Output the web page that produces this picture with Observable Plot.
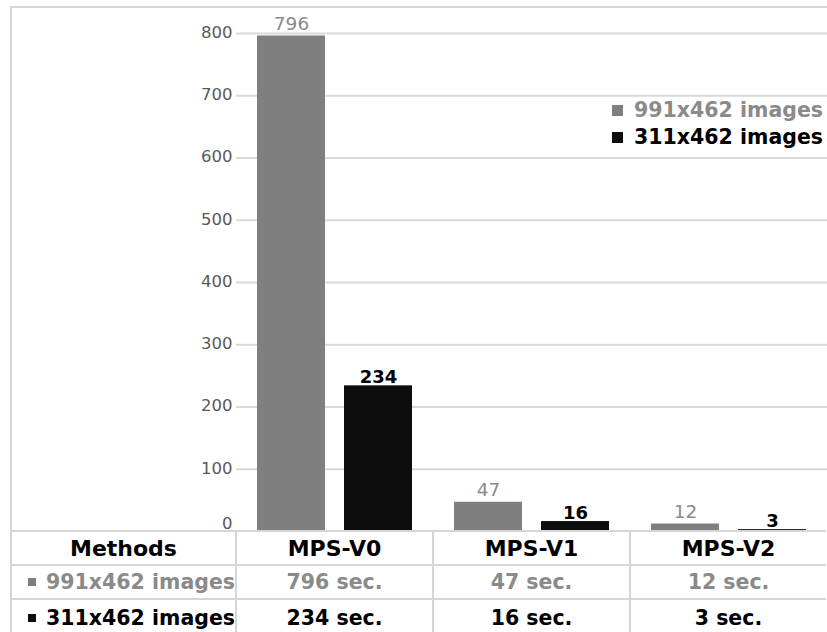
<!DOCTYPE html>
<html>
<head>
<meta charset="utf-8">
<script src="https://cdn.jsdelivr.net/npm/d3@7"></script>
<script src="https://cdn.jsdelivr.net/npm/@observablehq/plot@0.6"></script>
<style>
  html, body { margin: 0; padding: 0; background: #fff; }
  #wrap { position: relative; width: 827px; height: 632px; overflow: hidden; font-family: "DejaVu Sans", sans-serif; }
  #frame { position: absolute; left: 10px; top: 6px; width: 900px; height: 700px; border-left: 2px solid #d6d6d6; border-top: 2px solid #d6d6d6; }
  #chart { position: absolute; left: 0; top: 0; }
  .cell { position: absolute; box-sizing: border-box; border-left: 2px solid #d6d6d6; border-top: 2px solid #d6d6d6;
          display: flex; align-items: center; justify-content: center; font-weight: bold; white-space: nowrap; }
  .hdr { font-size: 22px; color: #000; }
  .row { font-size: 20.5px; }
  .sq { display: inline-block; width: 8px; height: 8px; margin-right: 10px; flex: none; }
  #legend { position: absolute; right: 4px; top: 97px; font-weight: bold; font-size: 20.5px; line-height: 27px; }
  #legend .sq { width: 11px; height: 11px; margin-right: 11px; }
</style>
</head>
<body>
<div id="wrap">
  <div id="frame"></div>
  <div id="chart"></div>
  <div id="legend"></div>
</div>
<script>
// ---- data ----
const methods = ["MPS-V0", "MPS-V1", "MPS-V2"];
const seriesNames = ["991x462 images", "311x462 images"];
const values991 = [796, 47, 12];
const values311 = [234, 16, 3];
const seriesColors = ["#7f7f7f", "#0d0d0d"];
const textColors = ["#8a8a8a", "#000000"];
const yTicks = [0, 100, 200, 300, 400, 500, 600, 700, 800];
const headerLabel = "Methods";
const unit = " sec.";

const data = [];
methods.forEach((m, i) => {
  data.push({method: m, series: seriesNames[0], value: values991[i]});
  data.push({method: m, series: seriesNames[1], value: values311[i]});
});

const W = 827, H = 532;
const chart = Plot.plot({
  width: W,
  height: H,
  marginLeft: 236,
  marginRight: 0,
  marginTop: 33,
  marginBottom: 1,
  style: {fontFamily: "DejaVu Sans, sans-serif", background: "transparent", overflow: "visible"},
  fx: {domain: methods, padding: 0, axis: null, label: null},
  x: {domain: seriesNames, paddingInner: 0.218, paddingOuter: 0.241, axis: null, label: null},
  y: {domain: [0, 800], label: null, axis: null},
  color: {domain: seriesNames, range: seriesColors},
  marks: [
    Plot.gridY(yTicks.filter(d => d > 0), {stroke: "#d9d9d9", strokeOpacity: 1, strokeWidth: 2}),
    Plot.axisY(yTicks.filter(d => d > 0), {tickSize: 0, tickPadding: 4, fontSize: 16.5, fill: "#595959", label: null, dy: -1}),
    Plot.axisY(yTicks.filter(d => d === 0), {tickSize: 0, tickPadding: 4, fontSize: 16.5, fill: "#595959", label: null, dy: -8}),
    Plot.barY(data, {fx: "method", x: "series", y: "value", fill: "series"}),
    Plot.text(data.filter(d => d.series === seriesNames[0]), {
      fx: "method", x: "series", y: "value", text: d => String(d.value),
      lineAnchor: "bottom", dy: -6, fill: "#8a8a8a", fontSize: 18.5
    }),
    Plot.text(data.filter(d => d.series === seriesNames[1]), {
      fx: "method", x: "series", y: "value", text: d => String(d.value),
      lineAnchor: "bottom", dy: -3, fill: "#000", fontSize: 18, fontWeight: "bold"
    })
  ]
});
document.getElementById("chart").appendChild(chart);

// ---- table under the chart, columns aligned to the fx band scale ----
const fxs = chart.scale("fx");
const band = d3.scaleBand().domain(fxs.domain).range(fxs.range).padding(0);
const wrap = document.getElementById("wrap");
const rowTops = [530, 564, 598];
const rowH = 34;
const firstLeft = 10;
function cell(left, top, width, height, cls, html, color, justify) {
  const d = document.createElement("div");
  d.className = "cell " + cls;
  d.style.left = left + "px";
  d.style.top = top + "px";
  d.style.width = width + "px";
  d.style.height = height + "px";
  d.style.color = color;
  if (justify) d.style.justifyContent = justify;
  d.innerHTML = html;
  wrap.appendChild(d);
}
const col0W = band(methods[0]) - firstLeft - 1;
cell(firstLeft, rowTops[0], col0W, rowH, "hdr", headerLabel, "#000");
methods.forEach(m => cell(band(m) - 1, rowTops[0], band.bandwidth(), rowH, "hdr", m, "#000"));
const rowsVals = [values991, values311];
seriesNames.forEach((s, si) => {
  const top = rowTops[si + 1];
  const h = si === 1 ? rowH + 4 : rowH;
  cell(firstLeft, top, col0W, h, "row",
    `<span class="sq" style="background:${seriesColors[si]}"></span>${s}`,
    textColors[si], "flex-end");
  methods.forEach((m, mi) => {
    cell(band(m) - 1, top, band.bandwidth(), h, "row", rowsVals[si][mi] + unit, textColors[si]);
  });
});

// ---- legend inside plot area ----
const lg = document.getElementById("legend");
seriesNames.forEach((s, i) => {
  const r = document.createElement("div");
  r.style.display = "flex";
  r.style.alignItems = "center";
  r.style.color = textColors[i];
  r.innerHTML = `<span class="sq" style="background:${seriesColors[i]}"></span>${s}`;
  lg.appendChild(r);
});
</script>
</body>
</html>
